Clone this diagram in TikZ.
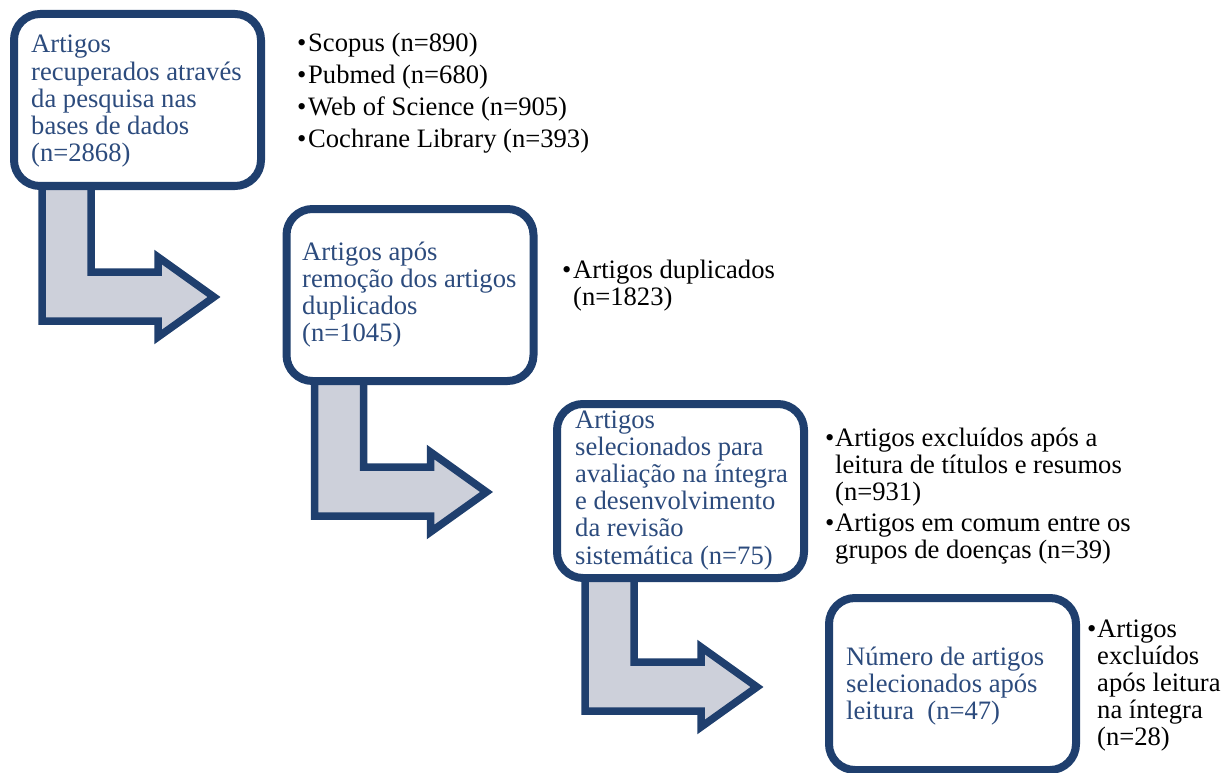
\documentclass[tikz,border=0pt]{standalone}
\usepackage{fontspec}
\setmainfont{Liberation Serif}
\usetikzlibrary{shadows,backgrounds}
\definecolor{frame}{HTML}{1F3F6E}
\definecolor{boxtext}{HTML}{2C4B7D}
\definecolor{arrowfill}{HTML}{CDD0DA}
\newcommand{\lines}[1]{\begin{tabular}[t]{@{}l@{}}#1\end{tabular}}
\tikzset{
  stepbox/.style={draw=frame, fill=white, line width=8pt, rounded corners=26pt,
    minimum width=247pt, minimum height=172pt, inner sep=0pt,
    drop shadow={shadow xshift=2pt, shadow yshift=-3pt, opacity=0.25}},
  bentarrow/.style={draw=frame, fill=arrowfill, line width=7.5pt, line join=miter,
    drop shadow={shadow xshift=2pt, shadow yshift=-3pt, opacity=0.2}},
  txtfont/.style={font=\fontsize{26.6}{27.2}\selectfont},
  boxlabel/.style={txtfont, anchor=base west, inner sep=0pt, text=boxtext},
  itemlabel/.style={txtfont, anchor=base west, inner sep=0pt, text=black},
  bulletmark/.style={txtfont, anchor=base west, inner sep=0pt, text=black},
}
\begin{document}
\begin{tikzpicture}[x=1pt, y=-1pt]
\useasboundingbox (0,0) rectangle (1224,773);

% boxes
\node[stepbox] (b1) at (137.5,100) {};
\node[stepbox] (b2) at (410,295) {};
\node[stepbox, minimum height=174pt] (b3) at (680.5,491) {};
\node[stepbox] (b4) at (952.5,684) {};

% bent arrows (behind the boxes)
\begin{scope}[on background layer]
\foreach \b in {b1,b2,b3}{
  \begin{scope}[shift={(\b.north west)}]
    \draw[bentarrow] (32,165) -- (32,311) -- (148,311) -- (148,327) -- (204,287)
      -- (148,247) -- (148,262) -- (81,262) -- (81,165) -- cycle;
  \end{scope}
}
\end{scope}

% box texts
\node[boxlabel] (t1) at (31,53) {\lines{Artigos\\recuperados através\\da pesquisa nas\\bases de dados\\(n=2868)}};
\node[boxlabel] (t2) at (302,260) {\lines{Artigos após\\remoção dos artigos\\duplicados\\(n=1045)}};
\node[boxlabel] (t3) at (575,428) {\lines{Artigos\\selecionados para\\avaliação na íntegra\\e desenvolvimento\\da revisão\\sistemática (n=75)}};
\node[boxlabel] (t4) at (846,665) {\lines{Número de artigos\\selecionados após\\leitura\ \ (n=47)}};

% list 1
\node[bulletmark] (p1) at (297,52) {•};
\node[itemlabel] (l1) at (308,52) {Scopus (n=890)};
\node[bulletmark] (p2) at (297,84) {•};
\node[itemlabel] (l2) at (308,84) {Pubmed (n=680)};
\node[bulletmark] (p3) at (297,116) {•};
\node[itemlabel] (l3) at (308,116) {Web of Science (n=905)};
\node[bulletmark] (p4) at (297,148) {•};
\node[itemlabel] (l4) at (308,148) {Cochrane Library (n=393)};

% list 2
\node[bulletmark] (p5) at (562,278) {•};
\node[itemlabel] (l5) at (573,278) {\lines{Artigos duplicados\\(n=1823)}};

% list 3
\node[bulletmark] (p6) at (825,446) {•};
\node[itemlabel] (l6) at (835,446) {\lines{Artigos excluídos após a\\leitura de títulos e resumos\\(n=931)}};
\node[bulletmark] (p7) at (825,531) {•};
\node[itemlabel] (l7) at (835,531) {\lines{Artigos em comum entre os\\grupos de doenças (n=39)}};

% list 4
\node[bulletmark] (p8) at (1087,637) {•};
\node[itemlabel] (l8) at (1097,637) {\lines{Artigos\\excluídos\\após leitura\\na íntegra\\(n=28)}};
\end{tikzpicture}
\end{document}
